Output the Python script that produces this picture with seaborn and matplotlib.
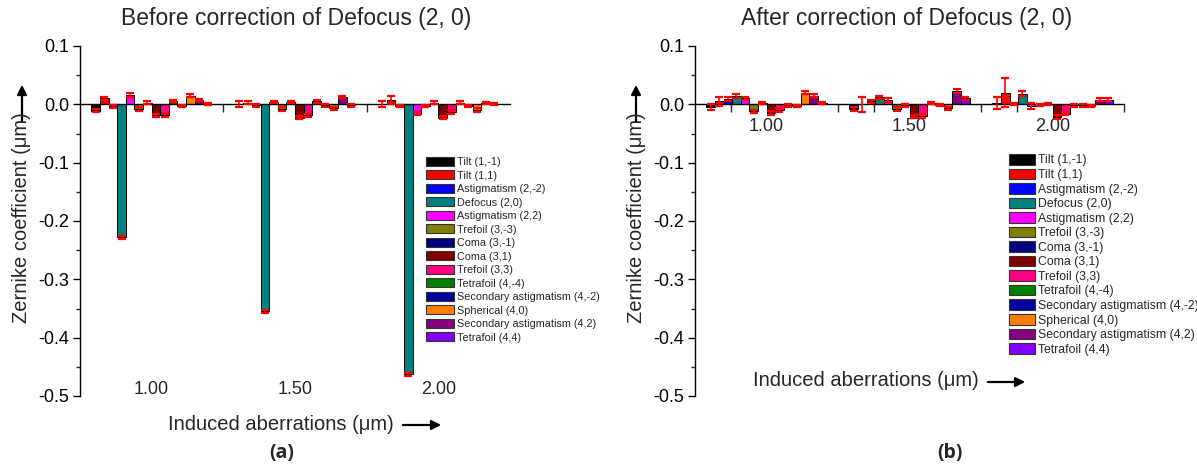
import numpy as np
import pandas as pd
import matplotlib
matplotlib.use("Agg")
import matplotlib.pyplot as plt
import seaborn as sns
from matplotlib.patches import Patch
from matplotlib.ticker import MultipleLocator, FixedLocator

# ---------------- data ----------------
groups = ["1.00", "1.50", "2.00"]
terms = ["Tilt (1,-1)", "Tilt (1,1)", "Astigmatism (2,-2)", "Defocus (2,0)",
         "Astigmatism (2,2)", "Trefoil (3,-3)", "Coma (3,-1)", "Coma (3,1)",
         "Trefoil (3,3)", "Tetrafoil (4,-4)", "Secondary astigmatism (4,-2)",
         "Spherical (4,0)", "Secondary astigmatism (4,2)", "Tetrafoil (4,4)"]
colors = ["#000000", "#FF0000", "#0000FF", "#008080", "#FF00FF", "#808000",
          "#000080", "#800000", "#FF0080", "#008000", "#0000A0", "#FF8000",
          "#800080", "#8000FF"]

before_100 = [-0.011, 0.010, -0.004, -0.228, 0.016, -0.008, 0.003, -0.019,
              -0.019, 0.006, -0.003, 0.015, 0.007, 0.001]
before_150 = [0.000, 0.003, -0.002, -0.355, 0.004, -0.008, 0.004, -0.023,
              -0.019, 0.005, -0.002, -0.007, 0.013, -0.002]
before_200 = [0.000, 0.008, -0.003, -0.463, -0.016, -0.003, 0.003, -0.023,
              -0.013, 0.003, -0.003, -0.010, 0.002, 0.001]
before_err_100 = [0.003, 0.003, 0.003, 0.002, 0.003, 0.003, 0.002, 0.003,
                  0.003, 0.002, 0.002, 0.003, 0.002, 0.002]
before_err_150 = [0.005, 0.002, 0.002, 0.002, 0.002, 0.003, 0.002, 0.003,
                  0.003, 0.003, 0.002, 0.003, 0.002, 0.002]
before_err_200 = [0.005, 0.007, 0.002, 0.002, 0.003, 0.002, 0.002, 0.003,
                  0.003, 0.002, 0.002, 0.003, 0.002, 0.002]

after_100 = [-0.005, 0.005, 0.009, 0.014, 0.010, -0.012, 0.002, -0.015,
             -0.010, -0.002, -0.003, 0.020, 0.015, 0.002]
after_150 = [-0.008, 0.000, 0.005, 0.012, 0.007, -0.008, -0.002, -0.021,
             -0.020, 0.002, -0.001, -0.007, 0.023, 0.010]
after_200 = [0.002, 0.020, 0.001, 0.018, -0.003, -0.001, 0.000, -0.022,
             -0.016, -0.002, -0.002, -0.003, 0.008, 0.008]
after_err_100 = [0.005, 0.008, 0.003, 0.003, 0.003, 0.003, 0.002, 0.003,
                 0.003, 0.002, 0.002, 0.003, 0.003, 0.002]
after_err_150 = [0.004, 0.013, 0.003, 0.003, 0.003, 0.003, 0.002, 0.003,
                 0.003, 0.002, 0.002, 0.003, 0.003, 0.003]
after_err_200 = [0.010, 0.025, 0.002, 0.004, 0.005, 0.002, 0.002, 0.003,
                 0.003, 0.002, 0.002, 0.002, 0.002, 0.002]


def make_df(vals, errs):
    rows = []
    for g, v, e in zip(groups, vals, errs):
        for t, vv, ee in zip(terms, v, e):
            rows.append({"group": g, "term": t, "value": vv, "err": ee})
    return pd.DataFrame(rows)


df_before = make_df([before_100, before_150, before_200],
                    [before_err_100, before_err_150, before_err_200])
df_after = make_df([after_100, after_150, after_200],
                   [after_err_100, after_err_150, after_err_200])

# ---------------- style ----------------
sns.set_theme(style="white")
plt.rcParams["font.family"] = ["Liberation Sans", "DejaVu Sans"]
plt.rcParams["axes.unicode_minus"] = False

W, H = 1197, 470
fig = plt.figure(figsize=(W / 100, H / 100), dpi=100)


def fx(px):
    return px / W


def fy(py):
    return 1 - py / H


def draw_panel(ax, df, label_pad, legend_anchor, legend_fs, hl, hh, ls,
               xminor):
    sns.barplot(data=df, x="group", y="value", hue="term", order=groups,
                hue_order=terms, palette=colors, width=0.84, saturation=1,
                edgecolor="black", linewidth=0.7, errorbar=None, legend=False,
                ax=ax)
    # red error bars positioned on the drawn bars
    for cont, term in zip(ax.containers, terms):
        sub = df[df["term"] == term].set_index("group").loc[groups]
        xs = [p.get_x() + p.get_width() / 2 for p in cont.patches]
        ax.errorbar(xs, sub["value"].values, yerr=sub["err"].values,
                    fmt="none", ecolor="#FF0000", elinewidth=1.2, capsize=3,
                    capthick=1.6, zorder=5)
    ax.set_xlim(-0.5, 2.5)
    ax.set_ylim(-0.5, 0.1)
    ax.yaxis.set_major_locator(MultipleLocator(0.1))
    ax.yaxis.set_minor_locator(MultipleLocator(0.05))
    ax.yaxis.set_major_formatter(matplotlib.ticker.FormatStrFormatter("%.1f"))
    ax.xaxis.set_minor_locator(FixedLocator(xminor))
    for s in ["top", "right"]:
        ax.spines[s].set_visible(False)
    ax.spines["bottom"].set_position(("data", 0))
    ax.spines["bottom"].set_linewidth(1.0)
    ax.spines["left"].set_linewidth(1.0)
    ax.spines["bottom"].set_color("black")
    ax.spines["left"].set_color("black")
    ax.tick_params(axis="y", which="major", direction="out", length=5,
                   width=1, labelsize=13, left=True, colors="black", pad=3)
    ax.tick_params(axis="y", which="minor", direction="out", length=3,
                   width=1, left=True)
    ax.tick_params(axis="x", which="major", length=0, labelsize=13,
                   pad=label_pad)
    ax.tick_params(axis="x", which="minor", direction="out", length=6,
                   width=1, bottom=True)
    ax.set_xlabel("")
    ax.set_ylabel("")
    handles = [Patch(facecolor=c, edgecolor="#333333", linewidth=0.8)
               for c in colors]
    fig.legend(handles, terms, loc="upper left", bbox_to_anchor=legend_anchor,
               frameon=False, fontsize=legend_fs, handlelength=hl,
               handleheight=hh, labelspacing=ls, handletextpad=0.3,
               borderpad=0, borderaxespad=0)


axL = fig.add_axes([fx(80), fy(396), fx(510) - fx(80), fy(46) - fy(396)])
draw_panel(axL, df_before, 199, (fx(426), fy(157)), 7.8, 2.6, 0.9, 0.30,
           [0.5, 1.5])

axR = fig.add_axes([fx(695), fy(396), fx(1124) - fx(695), fy(46) - fy(396)])
draw_panel(axR, df_after, 10, (fx(1009), fy(154)), 8.8, 2.1, 0.95, 0.17,
           [-0.25, 0.5, 0.75, 1.5, 1.75, 2.5])

# titles
fig.text(fx(296), fy(18), "Before correction of Defocus (2, 0)", ha="center",
         va="center", fontsize=16.5)
fig.text(fx(907), fy(18), "After correction of Defocus (2, 0)", ha="center",
         va="center", fontsize=16.5)

# y labels with arrows
for xpix in (22, 636):
    fig.text(fx(xpix), fy(218), "Zernike coefficient (\u03bcm)", rotation=90,
             ha="center", va="center", fontsize=14.5)
    fig.add_artist(matplotlib.patches.FancyArrowPatch(
        (fx(xpix), fy(124)), (fx(xpix), fy(82)), transform=fig.transFigure,
        arrowstyle="-|>", mutation_scale=14, lw=1.6, color="black"))

# x labels with arrows
for xc, yc, xa0, xa1 in ((281, 424, 400, 444), (866, 381, 985, 1028)):
    fig.text(fx(xc), fy(yc), "Induced aberrations (\u03bcm)", ha="center",
             va="center", fontsize=14.5)
    fig.add_artist(matplotlib.patches.FancyArrowPatch(
        (fx(xa0), fy(yc + 1)), (fx(xa1), fy(yc + 1)),
        transform=fig.transFigure, arrowstyle="-|>", mutation_scale=14,
        lw=1.6, color="black"))

fig.text(fx(282), fy(453), "(a)", ha="center", va="center", fontsize=14,
         fontweight="bold", family=["Open Sans", "DejaVu Sans"])
fig.text(fx(950), fy(453), "(b)", ha="center", va="center", fontsize=14,
         fontweight="bold", family=["Open Sans", "DejaVu Sans"])

fig.savefig("out.png", dpi=100, facecolor="white")
